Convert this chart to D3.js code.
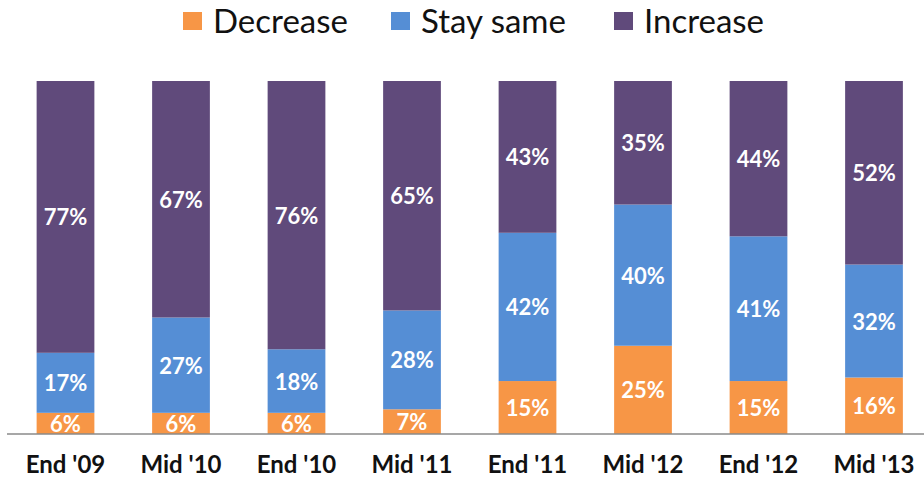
<!DOCTYPE html>
<html>
<head>
<meta charset="utf-8">
<script src="https://cdn.jsdelivr.net/npm/d3@7"></script>
<style>
  html, body { margin: 0; padding: 0; background: #fff; }
  svg { display: block; }
</style>
</head>
<body>
<svg id="chart" width="924" height="483"></svg>
<script>
// Survey periods and the share of answers in each group (percent)
const periods = ["End '09", "Mid '10", "End '10", "Mid '11", "End '11", "Mid '12", "End '12", "Mid '13"];
const decrease = [6, 6, 6, 7, 15, 25, 15, 16];
const staySame = [17, 27, 18, 28, 42, 40, 41, 32];
const increase = [77, 67, 76, 65, 43, 35, 44, 52];

const seriesNames = ["Decrease", "Stay same", "Increase"];
const seriesColors = ["#F79646", "#558ED5", "#604A7B"];

const width = 924, height = 483;
const svg = d3.select("#chart");

const rows = periods.map((p, i) => ({
  period: p,
  "Decrease": decrease[i],
  "Stay same": staySame[i],
  "Increase": increase[i]
}));

const stacked = d3.stack().keys(seriesNames)(rows);

const x = d3.scaleBand()
  .domain(periods)
  .range([7.75, 931.75])
  .paddingInner(0.5)
  .paddingOuter(0.25);

const y = d3.scaleLinear()
  .domain([0, 100])
  .range([434, 81]);

const color = d3.scaleOrdinal().domain(seriesNames).range(seriesColors);

// Stacked bars
const layers = svg.append("g")
  .selectAll("g")
  .data(stacked)
  .join("g")
  .attr("fill", d => color(d.key));

layers.selectAll("rect")
  .data(d => d)
  .join("rect")
  .attr("x", d => x(d.data.period))
  .attr("width", x.bandwidth())
  .attr("y", d => y(d[1]))
  .attr("height", d => y(d[0]) - y(d[1]));

// Value labels centred in each segment
layers.selectAll("text")
  .data(d => d.map(v => ({ v, key: d.key })))
  .join("text")
  .attr("x", d => x(d.v.data.period) + x.bandwidth() / 2)
  .attr("y", d => (y(d.v[0]) + y(d.v[1])) / 2)
  .attr("text-anchor", "middle")
  .attr("dominant-baseline", "central")
  .attr("fill", "#fff")
  .style("font-family", "Lato, 'Open Sans', sans-serif")
  .style("font-weight", "700")
  .style("font-size", "22px")
  .text(d => d.v.data[d.key] + "%");

// Category axis
const xAxis = svg.append("g")
  .attr("transform", "translate(0,434)")
  .call(d3.axisBottom(x).tickSize(0).tickPadding(22));
xAxis.select(".domain").remove();
xAxis.selectAll("text")
  .attr("fill", "#111")
  .style("font-family", "Lato, 'Open Sans', sans-serif")
  .style("font-weight", "700")
  .style("font-size", "24px");

svg.append("line")
  .attr("x1", 7).attr("x2", width)
  .attr("y1", y(0)).attr("y2", y(0))
  .attr("stroke", "#8a8a8a")
  .attr("stroke-width", 1.5);

// Legend
const legend = svg.append("g").attr("transform", "translate(0,20)");
const legendStarts = [183, 391, 614];
const items = legend.selectAll("g")
  .data(seriesNames)
  .join("g")
  .attr("transform", (d, i) => `translate(${legendStarts[i]},0)`);
items.append("rect")
  .attr("x", 0).attr("y", -8)
  .attr("width", 19).attr("height", 18)
  .attr("fill", d => color(d));
items.append("text")
  .attr("x", 30)
  .attr("y", 0)
  .attr("dominant-baseline", "central")
  .attr("fill", "#111")
  .style("font-family", "Lato, 'Open Sans', sans-serif")
  .style("font-size", "33px")
  .text(d => d);
</script>
</body>
</html>
